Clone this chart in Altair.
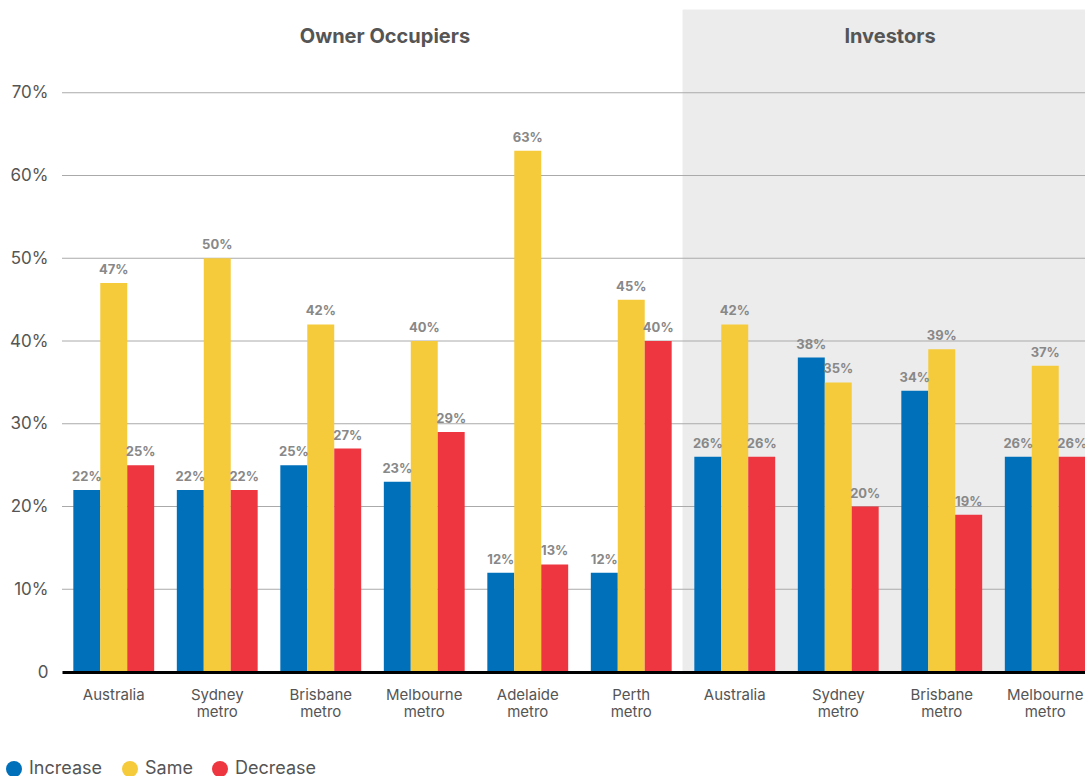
import altair as alt
import pandas as pd

# ---- data ----
categories = ["Australia", "Sydney metro", "Brisbane metro", "Melbourne metro",
              "Adelaide metro", "Perth metro",
              "Australia", "Sydney metro", "Brisbane metro", "Melbourne metro"]
segments = ["Owner Occupiers"] * 6 + ["Investors"] * 4
increase = [22, 22, 25, 23, 12, 12, 26, 38, 34, 26]
same = [47, 50, 42, 40, 63, 45, 42, 35, 39, 37]
decrease = [25, 22, 27, 29, 13, 40, 26, 20, 19, 26]
series = ["Increase", "Same", "Decrease"]
colors = ["#0070BA", "#F5CB3C", "#EE3640"]
y_ticks = [0, 0.1, 0.2, 0.3, 0.4, 0.5, 0.6, 0.7]

FONT = "Inter"
keys = [f"{c}#{s}" for c, s in zip(categories, segments)]

rows = []
for k, seg, a, b, c in zip(keys, segments, increase, same, decrease):
    for name, v in zip(series, (a, b, c)):
        rows.append({"key": k, "segment": seg, "series": name, "value": v / 100})
df = pd.DataFrame(rows)

bg_df = pd.DataFrame({"key": [k for k, s in zip(keys, segments) if s == "Investors"]})
grid_df = pd.DataFrame({"tick": [t for t in y_ticks if t > 0]})

x_scale = alt.Scale(domain=keys, range=[0, 1035], paddingInner=0, paddingOuter=0)
y_scale = alt.Scale(domain=[0, 0.8], nice=False)
off_scale = alt.Scale(domain=series, paddingInner=0, paddingOuter=0.42)

x_axis = alt.Axis(
    title=None,
    labelExpr="split(split(datum.value, '#')[0], ' ')",
    labelAngle=0, labelFontSize=15, labelColor="#555555", labelFont=FONT,
    labelPadding=15, labelLineHeight=17, ticks=False,
    domainColor="#000000", domainWidth=3, grid=False,
)
y_axis = alt.Axis(
    title=None, values=y_ticks,
    labelExpr="datum.value == 0 ? '0' : format(datum.value, '.0%')",
    labelFontSize=17, labelColor="#555555", labelFont=FONT,
    labelPadding=14, ticks=False, domain=False, grid=False,
)

base_x = alt.X("key:N", scale=x_scale, axis=x_axis, sort=keys)

background = alt.Chart(bg_df).mark_rect(
    color="#ECECEC", stroke="#ECECEC", strokeWidth=1
).encode(
    x=alt.X("key:N", scale=x_scale, axis=x_axis, sort=keys),
    y=alt.datum(0.8, scale=y_scale, axis=y_axis),
    y2=alt.datum(0),
)

grid = alt.Chart(grid_df).mark_rule(color="#AAAAAA", strokeWidth=1).encode(
    y=alt.Y("tick:Q", scale=y_scale, axis=y_axis),
)

bars = alt.Chart(df).mark_bar().encode(
    x=base_x,
    xOffset=alt.XOffset("series:N", sort=series, scale=off_scale),
    y=alt.Y("value:Q", scale=y_scale, axis=y_axis),
    color=alt.Color("series:N", sort=series,
                    scale=alt.Scale(domain=series, range=colors),
                    legend=alt.Legend(
                        title=None, orient="none", direction="horizontal",
                        legendX=-57, legendY=750,
                        symbolType="circle", symbolSize=256, symbolStrokeWidth=0,
                        labelFontSize=18, labelColor="#555555", labelFont=FONT,
                        columnPadding=18, labelOffset=6, padding=0,
                    )),
)

labels = alt.Chart(df).transform_calculate(
    label="format(datum.value, '.0%')"
).mark_text(
    dy=-6, fontSize=13, fontWeight="bold", color="#888888", font=FONT,
    baseline="bottom", align="center",
).encode(
    x=base_x,
    xOffset=alt.XOffset("series:N", sort=series, scale=off_scale),
    y=alt.Y("value:Q", scale=y_scale, axis=y_axis),
    text="label:N",
)

title_oo = alt.Chart(pd.DataFrame({"key": [keys[3]], "t": ["Owner Occupiers"]})).mark_text(
    fontSize=20, fontWeight="bold", color="#555555", font=FONT, baseline="middle",
).encode(
    x=alt.X("key:N", scale=x_scale, axis=x_axis, sort=keys, bandPosition=0.12),
    y=alt.datum(0.767, scale=y_scale, axis=y_axis),
    text="t:N",
)
title_inv = alt.Chart(pd.DataFrame({"key": [keys[7]], "t": ["Investors"]})).mark_text(
    fontSize=20, fontWeight="bold", color="#555555", font=FONT, baseline="middle",
).encode(
    x=alt.X("key:N", scale=x_scale, axis=x_axis, sort=keys, bandPosition=1),
    y=alt.datum(0.767, scale=y_scale, axis=y_axis),
    text="t:N",
)

chart = alt.layer(background, grid, bars, labels, title_oo, title_inv).properties(
    width=1023, height=662,
    autosize=alt.AutoSizeParams(type="none"),
    padding={"left": 62, "top": 10, "right": 0, "bottom": 104},
).configure(background="#FFFFFF").configure_view(stroke=None)

chart.save("out.html", embed_options={"renderer": "svg", "actions": False})
